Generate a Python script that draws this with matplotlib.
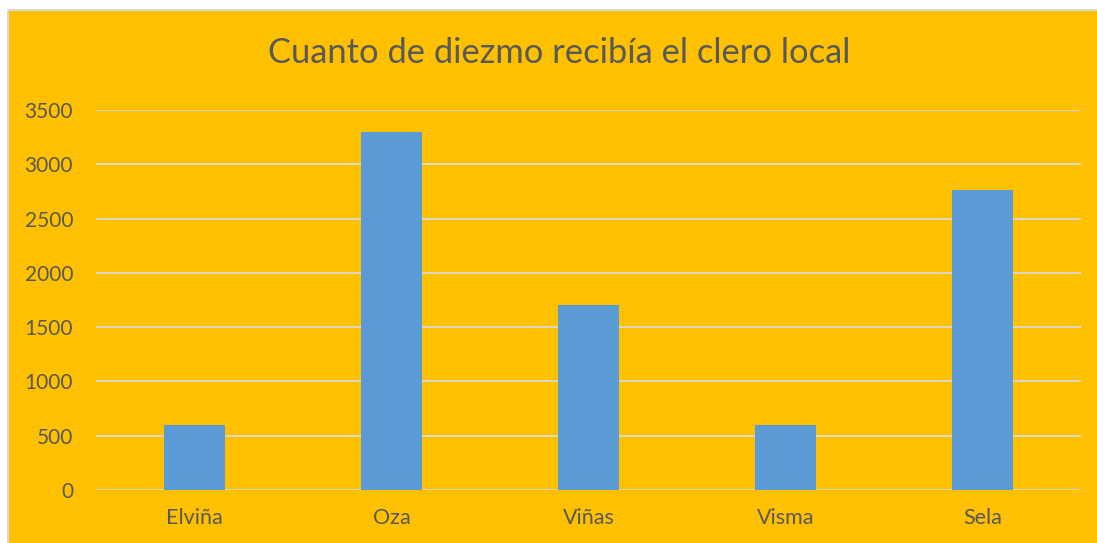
import matplotlib.pyplot as plt
from matplotlib.patches import Rectangle

lugares = ['Elviña', 'Oza', 'Viñas', 'Visma', 'Sela']
diezmo = [600, 3300, 1700, 600, 2760]
yticks = [0, 500, 1000, 1500, 2000, 2500, 3000, 3500]

naranja = '#FFC000'
azul = '#5B9BD5'
gris = '#595959'

plt.rcParams['font.family'] = ['Lato', 'DejaVu Sans']

W, H = 1097, 543
fig = plt.figure(figsize=(W / 100, H / 100), dpi=100)
fig.patch.set_facecolor('white')
fondo = Rectangle((7.5 / W, -0.1), 1, 1.1 - 10.5 / H, transform=fig.transFigure,
                  facecolor=naranja, edgecolor='#D9D9D9', linewidth=1.5, zorder=-5)
fig.add_artist(fondo)

ax = fig.add_axes([96 / W, 1 - 490 / H, (1081 - 96) / W, (490 - 110) / H])
ax.set_facecolor('none')
ax.bar(range(len(lugares)), diezmo, width=0.31, color=azul, zorder=3)
ax.set_xlim(-0.5, len(lugares) - 0.5)
ax.set_ylim(0, 3500)
ax.set_yticks(yticks)
ax.set_xticks(range(len(lugares)))
ax.set_xticklabels(lugares)
ax.grid(axis='y', color='#D9D9D9', linewidth=1.3, zorder=0)
for s in ax.spines.values():
    s.set_visible(False)
ax.tick_params(length=0, colors=gris)
ax.tick_params(axis='y', pad=16.5, labelsize=15)
ax.tick_params(axis='x', pad=13, labelsize=15.5)

fig.text(559 / W, 1 - 53 / H, 'Cuanto de diezmo recibía el clero local',
         ha='center', va='center', fontsize=24.8, color=gris)

fig.savefig('out.png', dpi=100)
